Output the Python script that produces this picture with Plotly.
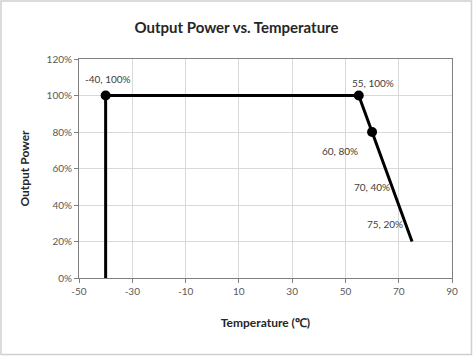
import plotly.graph_objects as go

temps = [-40, -40, 55, 60, 70, 75]
power = [0, 100, 100, 80, 40, 20]
marked = [False, True, True, True, False, False]
label_temps = [-40, 55, 60, 70, 75]
label_power = [100, 100, 80, 40, 20]
label_text = ["-40, 100%", "55, 100%", "60, 80%", "70, 40%", "75, 20%"]
label_offsets = [(2, 17), (14, 13), (-32, -19), (-27, 18), (-27, 18)]
x_ticks = [-50, -30, -10, 10, 30, 50, 70, 90]
x_tick_text = ["-50", "-30", "-10", "10", "30", "50", "70", "90"]
y_ticks = [0, 20, 40, 60, 80, 100, 120]
y_tick_text = ["0%", "20%", "40%", "60%", "80%", "100%", "120%"]

W, H = 473, 356
ml, mr, mt, mb = 79, 21, 59, 78
pw, ph = W - ml - mr, H - mt - mb

fig = go.Figure()
fig.add_trace(go.Scatter(x=temps, y=power, mode="lines",
                         line=dict(color="black", width=3), hoverinfo="skip"))
fig.add_trace(go.Scatter(x=[t for t, m in zip(temps, marked) if m],
                         y=[p for p, m in zip(power, marked) if m],
                         mode="markers", marker=dict(color="black", size=10)))

for t, p, s, (dx, dy) in zip(label_temps, label_power, label_text, label_offsets):
    fig.add_annotation(x=t, y=p, text=s, showarrow=False, xshift=dx, yshift=dy,
                       font=dict(size=10, color="#404040"))

font = "Lato, 'Open Sans', sans-serif"
fig.update_layout(
    width=W, height=H, margin=dict(l=ml, r=mr, t=mt, b=mb),
    paper_bgcolor="white", plot_bgcolor="white", showlegend=False,
    font=dict(family=font, color="#595959", size=10),
    title=dict(text="<b>Output Power vs. Temperature</b>", x=0.5, xanchor="center",
               y=1 - 28 / H, yanchor="middle", font=dict(size=15, color="#262626")),
    xaxis=dict(range=[-50, 90], tickvals=x_ticks, ticktext=x_tick_text, showgrid=True,
               gridcolor="#d9d9d9", gridwidth=1, zeroline=False, showline=True,
               linecolor="#808080", mirror=True, ticks="outside", ticklen=4,
               tickcolor="#808080",
               title=dict(text="<b>Temperature (℃)</b>", standoff=22,
                          font=dict(size=12, color="#262626"))),
    yaxis=dict(range=[0, 120], tickvals=y_ticks, ticktext=y_tick_text, showgrid=True,
               gridcolor="#d9d9d9", gridwidth=1, zeroline=False, showline=True,
               linecolor="#808080", mirror=True, ticks="outside", ticklen=4,
               tickcolor="#808080",
               title=dict(text="<b>Output Power</b>", standoff=14,
                          font=dict(size=12, color="#262626"))),
)
fig.add_shape(type="rect", xref="paper", yref="paper",
              x0=-(ml - 1) / pw, x1=1 + (mr - 1.5) / pw,
              y0=-(mb - 1.5) / ph, y1=1 + (mt - 1) / ph,
              line=dict(color="#d0d0d0", width=1.5), layer="below")
fig.write_html("out.html", config={"displayModeBar": False},
               post_script="document.body.style.margin='0px';")
